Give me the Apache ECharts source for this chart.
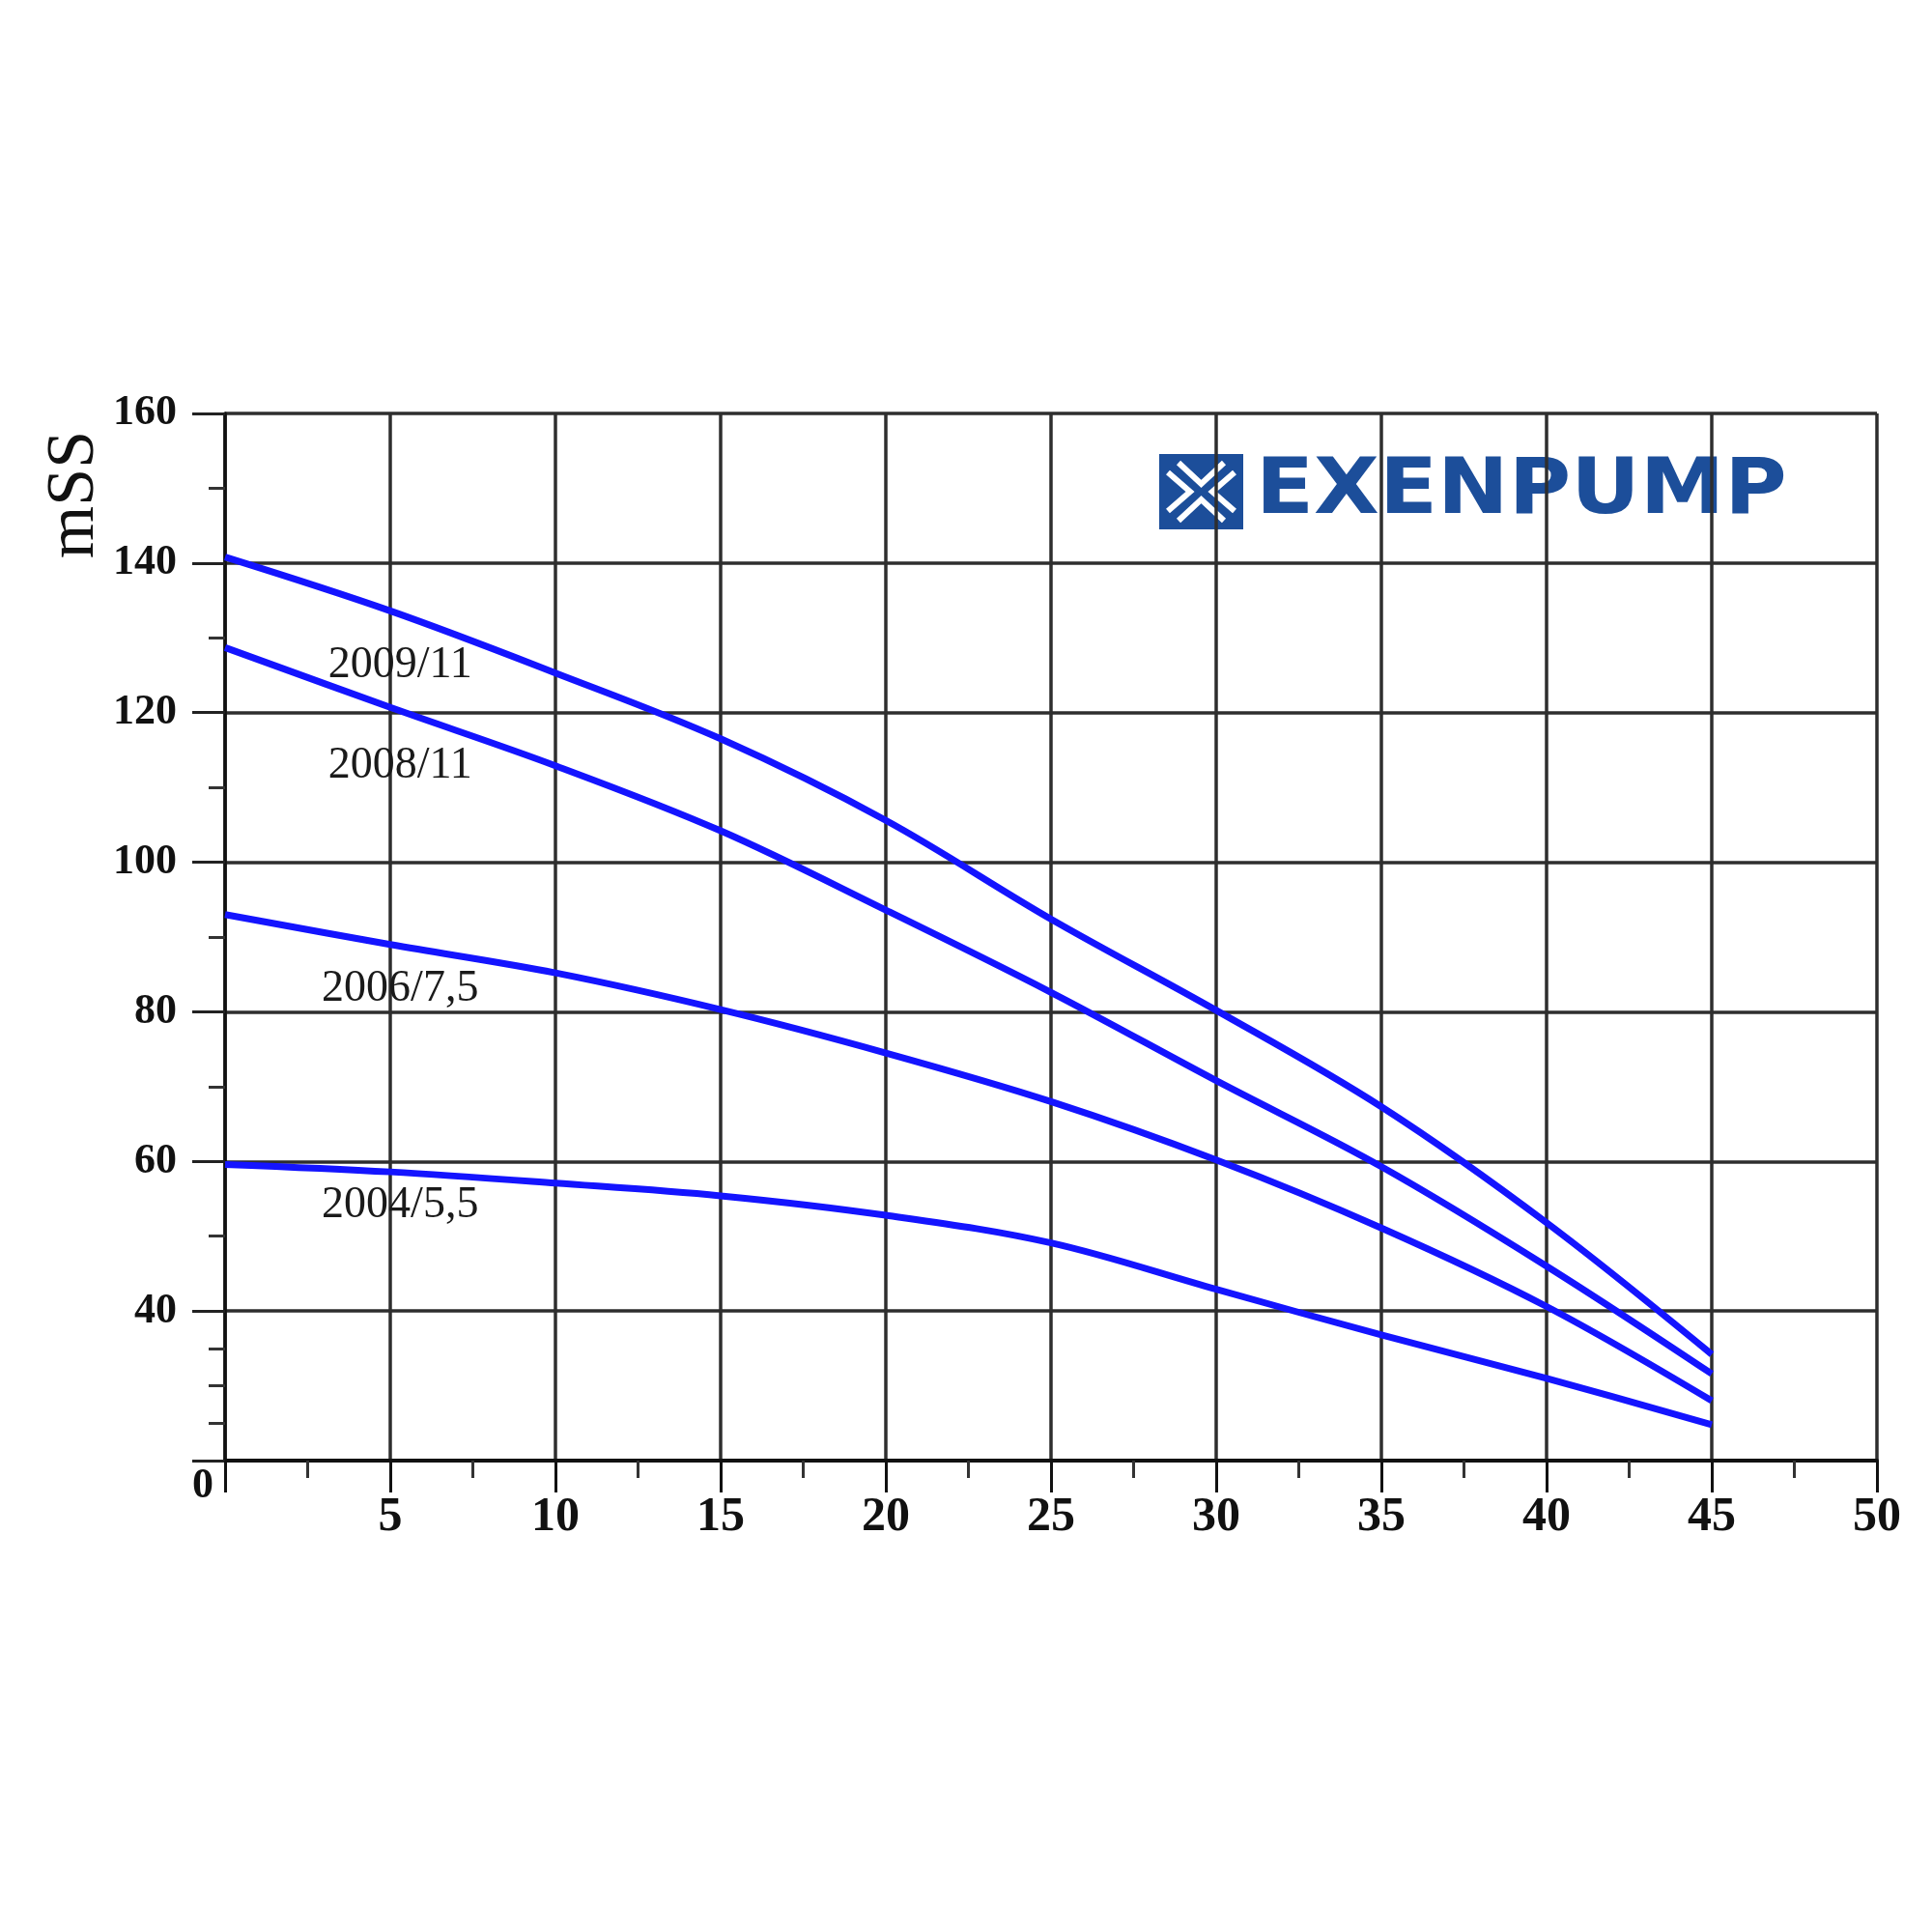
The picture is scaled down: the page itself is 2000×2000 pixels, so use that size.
<!DOCTYPE html>
<html>
<head>
<meta charset="utf-8">
<script src="https://cdn.jsdelivr.net/npm/echarts@6/dist/echarts.min.js"></script>
<style>html,body{margin:0;padding:0;background:#fff}#c{width:2000px;height:2000px}</style>
</head>
<body>
<div id="c"></div>
<script>
// ---- data ----
const flow = [0, 5, 10, 15, 20, 25, 30, 35, 40, 45];
const seriesNames = ['2009/11', '2008/11', '2006/7,5', '2004/5,5'];
const head2009 = [140.8, 133.6, 125.3, 116.5, 105.6, 92.4, 80.2, 67.3, 51.8, 34.2];
const head2008 = [128.7, 120.7, 112.9, 104.2, 93.6, 82.6, 70.8, 59.3, 46.0, 31.6];
const head2006 = [93.0, 89.0, 85.2, 80.3, 74.5, 68.0, 60.2, 51.1, 40.6, 28.0];
const head2004 = [59.6, 58.6, 57.1, 55.4, 52.8, 49.1, 42.9, 36.8, 31.0, 24.8];
const yTickValues = [20, 40, 60, 80, 100, 120, 140, 160];
const yTickLabels = ['0', '40', '60', '80', '100', '120', '140', '160'];
const xTickLabels = ['', '5', '10', '15', '20', '25', '30', '35', '40', '45', '50'];
const yMinorTicks = [25, 30, 35, 50, 70, 90, 110, 130, 150];
const yTitle = 'mSS';
const brand = 'EXENPUMP';

// ---- chart ----
const heads = [head2009, head2008, head2006, head2004];
const nameAnchors = [[5.3, 126.3], [5.3, 112.9], [5.3, 83.0], [5.3, 54.1]];
const SERIF = '"Liberation Serif", "DejaVu Serif", serif';
const GRID_COLOR = '#2e2e2e';
const BLUE = '#1414ff';

const chart = echarts.init(document.getElementById('c'), null, { renderer: 'canvas' });

const series = seriesNames.map((name, i) => ({
  name: name,
  type: 'line',
  data: flow.map((x, k) => [x, heads[i][k]]),
  smooth: 0.35,
  showSymbol: false,
  symbol: 'none',
  lineStyle: { color: BLUE, width: 7 },
  itemStyle: { color: BLUE },
  z: 5,
  silent: true,
  markPoint: {
    symbol: 'circle',
    symbolSize: 0,
    silent: true,
    label: {
      show: true,
      position: 'inside',
      formatter: name,
      color: '#1a1a1a',
      fontFamily: SERIF,
      fontSize: 46,
      fontWeight: 'normal'
    },
    data: [{ coord: nameAnchors[i] }]
  }
}));

const option = {
  backgroundColor: '#ffffff',
  animation: false,
  grid: { left: 233, right: 57, top: 428, bottom: 488, containLabel: false, outerBoundsMode: 'none' },
  xAxis: {
    type: 'value',
    min: 0, max: 50, interval: 5,
    axisLine: { show: true, onZero: false, lineStyle: { color: '#111', width: 4 } },
    axisTick: { show: true, length: 33, lineStyle: { color: '#111', width: 3 } },
    minorTick: { show: true, splitNumber: 2, length: 18, lineStyle: { color: '#333', width: 3 } },
    splitLine: { show: true, lineStyle: { color: GRID_COLOR, width: 3.5 } },
    axisLabel: {
      margin: 34,
      color: '#111',
      fontFamily: SERIF,
      fontWeight: 'bold',
      fontSize: 50,
      formatter: v => xTickLabels[Math.round(v / 5)] || ''
    }
  },
  yAxis: [{
    type: 'value',
    min: 20, max: 160, interval: 20,
    axisLine: { show: true, onZero: false, lineStyle: { color: '#111', width: 3.5 } },
    axisTick: { show: true, length: 34, lineStyle: { color: '#222', width: 3 } },
    splitLine: { show: true, lineStyle: { color: GRID_COLOR, width: 3.5 } },
    axisLabel: {
      margin: 12,
      color: '#111',
      fontFamily: SERIF,
      fontWeight: 'bold',
      fontSize: 44,
      formatter: v => {
        const idx = yTickValues.indexOf(v);
        const txt = idx >= 0 ? yTickLabels[idx] : '';
        return idx === 0 ? '{z|' + txt + '}' : '{n|' + txt + '}';
      },
      rich: {
        n: { padding: [0, 38, 0, 0], fontFamily: SERIF, fontWeight: 'bold', fontSize: 44, color: '#111' },
        z: { padding: [54, 0, 0, 0], fontFamily: SERIF, fontWeight: 'bold', fontSize: 44, color: '#111' }
      }
    }
  }, {
    type: 'value',
    position: 'left',
    min: 20, max: 160, interval: 20,
    axisLine: { show: false },
    axisLabel: { show: false },
    splitLine: { show: false },
    axisTick: { show: true, length: 17, customValues: yMinorTicks, lineStyle: { color: '#333', width: 3 } }
  }],
  series: series,
  graphic: [
    {
      type: 'text',
      x: 78, y: 512,
      rotation: Math.PI / 2,
      style: {
        text: yTitle,
        fill: '#111',
        font: 'normal 70px "Liberation Serif", serif',
        textAlign: 'center',
        textVerticalAlign: 'middle'
      }
    },
    {
      type: 'group',
      x: 1200, y: 470,
      children: [
        { type: 'rect', shape: { x: 0, y: 0, width: 87, height: 78 }, style: { fill: '#1c4e9a' } },
        { type: 'polyline', shape: { points: [[20, 9], [43.5, 31], [67, 9]] }, style: { stroke: '#fff', lineWidth: 6, fill: null } },
        { type: 'polyline', shape: { points: [[20, 69], [43.5, 47], [67, 69]] }, style: { stroke: '#fff', lineWidth: 6, fill: null } },
        { type: 'polyline', shape: { points: [[9, 19], [32, 39], [9, 59]] }, style: { stroke: '#fff', lineWidth: 6, fill: null } },
        { type: 'polyline', shape: { points: [[78, 19], [55, 39], [78, 59]] }, style: { stroke: '#fff', lineWidth: 6, fill: null } },
        {
          type: 'text',
          x: 100, y: 40,
          scaleX: 1.1,
          style: {
            text: brand,
            fill: '#1c4e9a',
            font: 'bold 80px "DejaVu Sans", sans-serif',
            textAlign: 'left',
            textVerticalAlign: 'middle'
          }
        }
      ]
    }
  ]
};

chart.setOption(option);
</script>
</body>
</html>
